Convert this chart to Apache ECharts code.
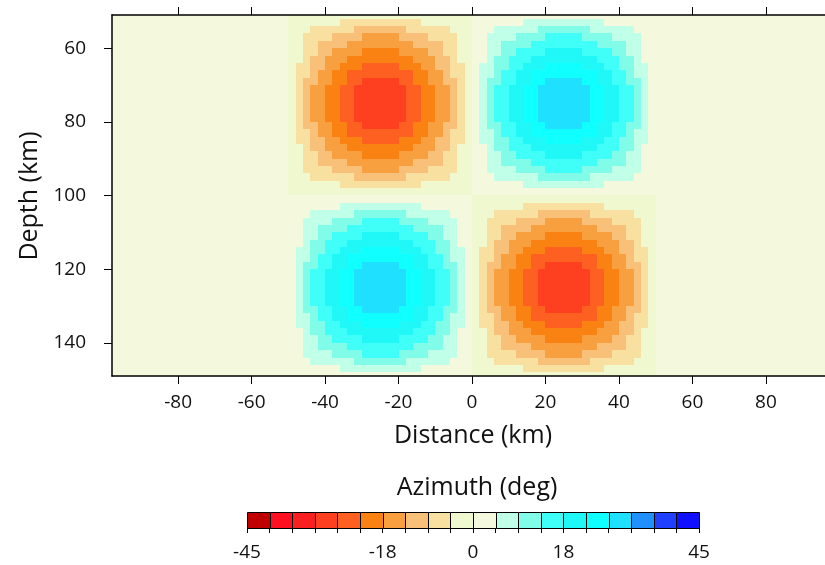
<!DOCTYPE html>
<html>
<head>
<meta charset="utf-8">
<script src="https://cdn.jsdelivr.net/npm/echarts@6/dist/echarts.min.js"></script>
<style>
html, body { margin: 0; padding: 0; background: #ffffff; }
#chart { width: 825px; height: 565px; }
</style>
</head>
<body>
<div id="chart"></div>
<script>
// Tick positions and labels
const xTicks = [-80, -60, -40, -20, 0, 20, 40, 60, 80];
const yTicks = [60, 80, 100, 120, 140];
const barTicks = [-45, -40.5, -36, -31.5, -27, -22.5, -18, -13.5, -9, -4.5, 0, 4.5, 9, 13.5, 18, 22.5, 27, 31.5, 36, 40.5, 45];
const barLabels = [-45, -18, 0, 18, 45];

// Azimuth colour scale, 20 classes from -45 to 45 deg
const levelColors = [
  '#c00000', '#ff1020', '#fa2020', '#ff4020', '#fd6020',
  '#f98212', '#f8a040', '#f8c078', '#f8e0a0', '#f0f8d0',
  '#f4f8dc', '#c0ffe8', '#80fce8', '#40fff8', '#20f8f8',
  '#10ffff', '#20e0ff', '#2090ff', '#2040ff', '#1010ff'
];

// Model domain (km)
const distanceRange = [-98, 98];
const depthRange = [51, 149];

// Anomaly blocks: left edge of each column, top edge of each row, sign per block
const blockX = [-50, 0];
const blockY = [50, 100];
const blockSign = [[-1, 1], [1, -1]];

// Azimuth magnitude (deg) inside one 50 x 50 km block, 2 km cells, rows by depth
const blockMagnitude = [
  [0.1,0.4,0.6,0.8,1.0,1.2,1.3,1.4,1.6,1.7,1.8,1.8,1.8,1.8,1.8,1.7,1.6,1.4,1.3,1.2,1.0,0.8,0.6,0.4,0.1],
  [0.4,1.2,2.1,2.8,3.3,3.8,4.3,4.8,5.2,5.6,5.9,6.0,6.0,6.0,5.9,5.6,5.2,4.8,4.3,3.8,3.3,2.8,2.1,1.2,0.4],
  [0.6,2.1,3.6,4.8,5.7,6.6,7.5,8.2,8.9,9.7,10.1,10.3,10.4,10.3,10.1,9.7,8.9,8.2,7.5,6.6,5.7,4.8,3.6,2.1,0.6],
  [0.8,2.8,4.8,6.5,7.7,8.9,10.0,11.1,12.1,13.0,13.6,13.9,14.0,13.9,13.6,13.0,12.1,11.1,10.0,8.9,7.7,6.5,4.8,2.8,0.8],
  [1.0,3.3,5.7,7.7,9.2,10.7,12.0,13.2,14.5,15.6,16.2,16.6,16.7,16.6,16.2,15.6,14.5,13.2,12.0,10.7,9.2,7.7,5.7,3.3,1.0],
  [1.2,3.8,6.6,8.9,10.7,12.3,13.8,15.3,16.7,17.9,18.7,19.1,19.2,19.1,18.7,17.9,16.7,15.3,13.8,12.3,10.7,8.9,6.6,3.8,1.2],
  [1.3,4.3,7.5,10.0,12.0,13.8,15.6,17.2,18.8,20.2,21.1,21.5,21.6,21.5,21.1,20.2,18.8,17.2,15.6,13.8,12.0,10.0,7.5,4.3,1.3],
  [1.4,4.8,8.2,11.1,13.2,15.3,17.2,19.0,20.7,22.3,23.3,23.7,23.9,23.7,23.3,22.3,20.7,19.0,17.2,15.3,13.2,11.1,8.2,4.8,1.4],
  [1.6,5.2,8.9,12.1,14.5,16.7,18.8,20.7,22.7,24.4,25.4,26.0,26.1,26.0,25.4,24.4,22.7,20.7,18.8,16.7,14.5,12.1,8.9,5.2,1.6],
  [1.7,5.6,9.7,13.0,15.6,17.9,20.2,22.3,24.4,26.2,27.3,27.9,28.1,27.9,27.3,26.2,24.4,22.3,20.2,17.9,15.6,13.0,9.7,5.6,1.7],
  [1.8,5.9,10.1,13.6,16.2,18.7,21.1,23.3,25.4,27.3,28.5,29.1,29.3,29.1,28.5,27.3,25.4,23.3,21.1,18.7,16.2,13.6,10.1,5.9,1.8],
  [1.8,6.0,10.3,13.9,16.6,19.1,21.5,23.7,26.0,27.9,29.1,29.7,29.9,29.7,29.1,27.9,26.0,23.7,21.5,19.1,16.6,13.9,10.3,6.0,1.8],
  [1.8,6.0,10.4,14.0,16.7,19.2,21.6,23.9,26.1,28.1,29.3,29.9,30.0,29.9,29.3,28.1,26.1,23.9,21.6,19.2,16.7,14.0,10.4,6.0,1.8],
  [1.8,6.0,10.3,13.9,16.6,19.1,21.5,23.7,26.0,27.9,29.1,29.7,29.9,29.7,29.1,27.9,26.0,23.7,21.5,19.1,16.6,13.9,10.3,6.0,1.8],
  [1.8,5.9,10.1,13.6,16.2,18.7,21.1,23.3,25.4,27.3,28.5,29.1,29.3,29.1,28.5,27.3,25.4,23.3,21.1,18.7,16.2,13.6,10.1,5.9,1.8],
  [1.7,5.6,9.7,13.0,15.6,17.9,20.2,22.3,24.4,26.2,27.3,27.9,28.1,27.9,27.3,26.2,24.4,22.3,20.2,17.9,15.6,13.0,9.7,5.6,1.7],
  [1.6,5.2,8.9,12.1,14.5,16.7,18.8,20.7,22.7,24.4,25.4,26.0,26.1,26.0,25.4,24.4,22.7,20.7,18.8,16.7,14.5,12.1,8.9,5.2,1.6],
  [1.4,4.8,8.2,11.1,13.2,15.3,17.2,19.0,20.7,22.3,23.3,23.7,23.9,23.7,23.3,22.3,20.7,19.0,17.2,15.3,13.2,11.1,8.2,4.8,1.4],
  [1.3,4.3,7.5,10.0,12.0,13.8,15.6,17.2,18.8,20.2,21.1,21.5,21.6,21.5,21.1,20.2,18.8,17.2,15.6,13.8,12.0,10.0,7.5,4.3,1.3],
  [1.2,3.8,6.6,8.9,10.7,12.3,13.8,15.3,16.7,17.9,18.7,19.1,19.2,19.1,18.7,17.9,16.7,15.3,13.8,12.3,10.7,8.9,6.6,3.8,1.2],
  [1.0,3.3,5.7,7.7,9.2,10.7,12.0,13.2,14.5,15.6,16.2,16.6,16.7,16.6,16.2,15.6,14.5,13.2,12.0,10.7,9.2,7.7,5.7,3.3,1.0],
  [0.8,2.8,4.8,6.5,7.7,8.9,10.0,11.1,12.1,13.0,13.6,13.9,14.0,13.9,13.6,13.0,12.1,11.1,10.0,8.9,7.7,6.5,4.8,2.8,0.8],
  [0.6,2.1,3.6,4.8,5.7,6.6,7.5,8.2,8.9,9.7,10.1,10.3,10.4,10.3,10.1,9.7,8.9,8.2,7.5,6.6,5.7,4.8,3.6,2.1,0.6],
  [0.4,1.2,2.1,2.8,3.3,3.8,4.3,4.8,5.2,5.6,5.9,6.0,6.0,6.0,5.9,5.6,5.2,4.8,4.3,3.8,3.3,2.8,2.1,1.2,0.4],
  [0.1,0.4,0.6,0.8,1.0,1.2,1.3,1.4,1.6,1.7,1.8,1.8,1.8,1.8,1.8,1.7,1.6,1.4,1.3,1.2,1.0,0.8,0.6,0.4,0.1]
];

const CELL = 2;                 // cell size, km
const FONT = '"Open Sans", "Noto Sans", sans-serif';
const BLOCK_CELLS = blockMagnitude.length;

function levelIndex(v) {
  const i = Math.floor((v + 45) / 4.5);
  return Math.max(0, Math.min(levelColors.length - 1, i));
}

// Azimuth at a cell whose upper-left corner is (x0, y0)
function cellValue(x0, y0) {
  for (let r = 0; r < blockY.length; r++) {
    for (let c = 0; c < blockX.length; c++) {
      const i = (y0 - blockY[r]) / CELL;
      const j = (x0 - blockX[c]) / CELL;
      if (i >= 0 && i < BLOCK_CELLS && j >= 0 && j < BLOCK_CELLS) {
        return blockSign[r][c] * blockMagnitude[i][j];
      }
    }
  }
  return 0;
}

const cells = [];
for (let y0 = 50; y0 < 150; y0 += CELL) {
  for (let x0 = -98; x0 < 98; x0 += CELL) {
    cells.push([x0, y0, cellValue(x0, y0)]);
  }
}

const barBins = [];
for (let k = 0; k < levelColors.length; k++) {
  barBins.push([barTicks[k], barTicks[k + 1], k]);
}

function renderCell(params, api) {
  const cs = params.coordSys;
  const x0 = api.value(0), y0 = api.value(1), v = api.value(2);
  const a = api.coord([x0, y0]);
  const b = api.coord([x0 + CELL, y0 + CELL]);
  const l = Math.max(cs.x, Math.round(Math.min(a[0], b[0])));
  const r = Math.min(cs.x + cs.width, Math.round(Math.max(a[0], b[0])));
  const t = Math.max(cs.y, Math.round(Math.min(a[1], b[1])));
  const btm = Math.min(cs.y + cs.height, Math.round(Math.max(a[1], b[1])));
  if (r <= l || btm <= t) return null;
  return {
    type: 'rect',
    shape: { x: l, y: t, width: r - l, height: btm - t },
    style: { fill: levelColors[levelIndex(v)] }
  };
}

function renderBin(params, api) {
  const a = api.coord([api.value(0), 0]);
  const b = api.coord([api.value(1), 1]);
  return {
    type: 'rect',
    shape: { x: Math.round(a[0]) + 0.5, y: Math.round(b[1]) + 0.5, width: Math.round(b[0]) - Math.round(a[0]), height: Math.round(a[1]) - Math.round(b[1]) },
    style: { fill: levelColors[api.value(2)], stroke: '#000', lineWidth: 1 }
  };
}

const axisLine = { show: true, onZero: false, lineStyle: { color: '#000', width: 1.5 } };
const tickStyle = { color: '#000', width: 1 };
const labelStyle = { color: '#111', fontSize: 19, fontFamily: FONT };

const chart = echarts.init(document.getElementById('chart'), null, { renderer: 'canvas' });
chart.setOption({
  backgroundColor: '#ffffff',
  animation: false,
  grid: [
    { left: 112, top: 15, width: 720, height: 361, outerBoundsMode: 'none', containLabel: false },
    { left: 247, top: 512, width: 452, height: 16, outerBoundsMode: 'none', containLabel: false }
  ],
  xAxis: [
    {
      type: 'value', gridIndex: 0, position: 'bottom', z: 10,
      min: distanceRange[0], max: distanceRange[1],
      axisLine: axisLine,
      axisTick: { show: true, inside: false, length: 8, lineStyle: tickStyle, customValues: xTicks },
      axisLabel: { show: true, margin: 17, customValues: xTicks, ...labelStyle },
      splitLine: { show: false }
    },
    {
      type: 'value', gridIndex: 0, position: 'top', z: 10,
      min: distanceRange[0], max: distanceRange[1],
      axisLine: axisLine,
      axisTick: { show: true, inside: false, length: 8, lineStyle: tickStyle, customValues: xTicks },
      axisLabel: { show: false },
      splitLine: { show: false }
    },
    {
      type: 'value', gridIndex: 1, position: 'bottom', z: 10,
      min: -45, max: 45,
      axisLine: { show: false },
      axisTick: { show: true, inside: false, length: 5, lineStyle: tickStyle, customValues: barTicks },
      axisLabel: { show: true, margin: 15, customValues: barLabels, ...labelStyle },
      splitLine: { show: false }
    }
  ],
  yAxis: [
    {
      type: 'value', gridIndex: 0, position: 'left', inverse: true, z: 10,
      min: depthRange[0], max: depthRange[1],
      axisLine: axisLine,
      axisTick: { show: true, inside: false, length: 8, lineStyle: tickStyle, customValues: yTicks },
      axisLabel: { show: true, margin: 26, customValues: yTicks, ...labelStyle },
      splitLine: { show: false }
    },
    {
      type: 'value', gridIndex: 0, position: 'right', inverse: true, z: 10,
      min: depthRange[0], max: depthRange[1],
      axisLine: axisLine,
      axisTick: { show: false }, axisLabel: { show: false }, splitLine: { show: false }
    },
    {
      type: 'value', gridIndex: 1, min: 0, max: 1, show: false
    }
  ],
  graphic: [
    { type: 'text', x: 473, y: 436, style: { text: 'Distance (km)', font: '25px ' + FONT, fill: '#111', align: 'center', verticalAlign: 'middle' } },
    { type: 'text', x: 30, y: 196, rotation: Math.PI / 2, style: { text: 'Depth (km)', font: '25px ' + FONT, fill: '#111', align: 'center', verticalAlign: 'middle' } },
    { type: 'text', x: 477, y: 488, style: { text: 'Azimuth (deg)', font: '25px ' + FONT, fill: '#111', align: 'center', verticalAlign: 'middle' } }
  ],
  series: [
    {
      type: 'custom', xAxisIndex: 0, yAxisIndex: 0,
      renderItem: renderCell, data: cells, silent: true, z: 1
    },
    {
      type: 'custom', xAxisIndex: 2, yAxisIndex: 2,
      renderItem: renderBin, data: barBins, silent: true, z: 1
    }
  ]
});
</script>
</body>
</html>
